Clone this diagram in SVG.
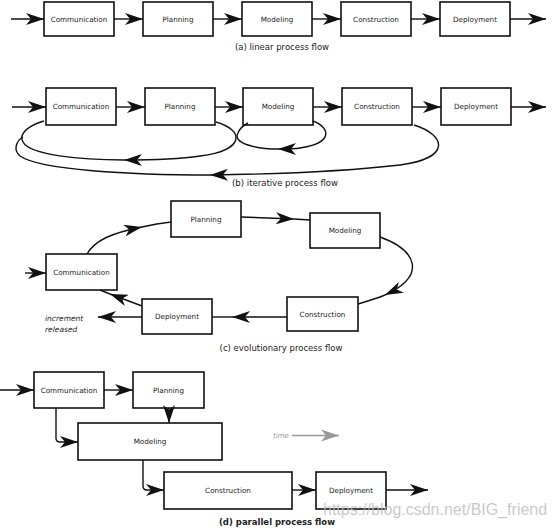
<svg xmlns="http://www.w3.org/2000/svg" width="552" height="528" viewBox="0 0 552 528">
<style>
.box{fill:#fff;stroke:#111;stroke-width:1.6}
.lbl{font-family:"DejaVu Sans",Verdana,sans-serif;font-size:7.2px;fill:#222;text-anchor:middle;dominant-baseline:central}
.cap{font-family:"DejaVu Sans",Verdana,sans-serif;font-size:8.5px;fill:#222;text-anchor:middle}
.c{fill:none;stroke:#111;stroke-width:1.4}
.a{marker-end:url(#ah)}
.it{font-family:"DejaVu Sans",Verdana,sans-serif;font-size:7.5px;font-style:italic;fill:#222}
</style>
<defs>
<marker id="ah" viewBox="0 0 18 12" refX="18" refY="6" markerWidth="18" markerHeight="12" markerUnits="userSpaceOnUse" orient="auto"><path d="M0,0 L18,6 L0,12 L5,6 Z" fill="#111"/></marker>
<marker id="ahg" viewBox="0 0 18 12" refX="18" refY="6" markerWidth="18" markerHeight="12" markerUnits="userSpaceOnUse" orient="auto"><path d="M0,0 L18,6 L0,12 L5,6 Z" fill="#999"/></marker>
</defs>
<rect width="552" height="528" fill="#fff"/>

<!-- (a) -->
<g id="a-communication"><rect class="box" x="44" y="2" width="70" height="34"/><text class="lbl" x="79" y="19">Communication</text></g>
<g id="a-planning"><rect class="box" x="143" y="2" width="70" height="34"/><text class="lbl" x="178" y="19">Planning</text></g>
<g id="a-modeling"><rect class="box" x="242" y="2" width="70" height="34"/><text class="lbl" x="277" y="19">Modeling</text></g>
<g id="a-construction"><rect class="box" x="341" y="2" width="70" height="34"/><text class="lbl" x="376" y="19">Construction</text></g>
<g id="a-deployment"><rect class="box" x="440" y="2" width="70" height="34"/><text class="lbl" x="475" y="19">Deployment</text></g>
<text class="cap" x="282" y="50">(a) linear process flow</text>

<!-- (b) -->
<g id="b-communication"><rect class="box" x="46" y="88" width="70" height="37"/><text class="lbl" x="81" y="106.5">Communication</text></g>
<g id="b-planning"><rect class="box" x="145" y="88" width="70" height="37"/><text class="lbl" x="180" y="106.5">Planning</text></g>
<g id="b-modeling"><rect class="box" x="243" y="88" width="70" height="37"/><text class="lbl" x="278" y="106.5">Modeling</text></g>
<g id="b-construction"><rect class="box" x="342" y="88" width="70" height="37"/><text class="lbl" x="377" y="106.5">Construction</text></g>
<g id="b-deployment"><rect class="box" x="441" y="88" width="70" height="37"/><text class="lbl" x="476" y="106.5">Deployment</text></g>
<text class="cap" x="285" y="186">(b) iterative process flow</text>

<!-- (c) -->
<g id="c-planning"><rect class="box" x="171" y="201" width="70" height="36"/><text class="lbl" x="206" y="219">Planning</text></g>
<g id="c-modeling"><rect class="box" x="310" y="213" width="70" height="35"/><text class="lbl" x="345" y="230.5">Modeling</text></g>
<g id="c-communication"><rect class="box" x="46" y="254" width="71" height="36"/><text class="lbl" x="81.5" y="272">Communication</text></g>
<g id="c-deployment"><rect class="box" x="142" y="299" width="70" height="35"/><text class="lbl" x="177" y="316.5">Deployment</text></g>
<g id="c-construction"><rect class="box" x="287" y="297" width="71" height="34"/><text class="lbl" x="322.5" y="314">Construction</text></g>
<g id="c-increment"><text class="it" x="45" y="321">increment</text><text class="it" x="45" y="332">released</text></g>
<text class="cap" x="281" y="351">(c) evolutionary process flow</text>

<!-- (d) -->
<g id="d-communication"><rect class="box" x="34" y="372" width="70" height="36"/><text class="lbl" x="69" y="390">Communication</text></g>
<g id="d-planning"><rect class="box" x="133" y="372" width="71" height="36"/><text class="lbl" x="168.5" y="390">Planning</text></g>
<g id="d-modeling"><rect class="box" x="78" y="423" width="144" height="37"/><text class="lbl" x="150" y="441.5">Modeling</text></g>
<g id="d-construction"><rect class="box" x="164" y="472" width="128" height="37"/><text class="lbl" x="228" y="490.5">Construction</text></g>
<g id="d-deployment"><rect class="box" x="316" y="472" width="70" height="37"/><text class="lbl" x="351" y="490.5">Deployment</text></g>
<g id="d-time"><text x="273" y="438" font-family="DejaVu Sans,Verdana,sans-serif" font-size="7" font-style="italic" fill="#999">time</text><path d="M292,435.5 L339,435.5" fill="none" stroke="#999" stroke-width="1.4" marker-end="url(#ahg)"/></g>
<text class="cap" x="277" y="525" font-weight="600">(d) parallel process flow</text>

<g id="connectors">
<!-- a -->
<path class="c a" d="M11,19 L44,19"/>
<path class="c a" d="M114,19 L143,19"/>
<path class="c a" d="M213,19 L242,19"/>
<path class="c a" d="M312,19 L341,19"/>
<path class="c a" d="M411,19 L440,19"/>
<path class="c a" d="M510,19 L546,19"/>
<!-- b -->
<path class="c a" d="M12,107 L46,107"/>
<path class="c a" d="M116,107 L145,107"/>
<path class="c a" d="M215,107 L243,107"/>
<path class="c a" d="M313,107 L342,107"/>
<path class="c a" d="M412,107 L441,107"/>
<path class="c a" d="M511,107 L546,107"/>
<path class="c a" d="M216,122 C244,130 246,150 200,156 C180,159 160,160 124,160"/>
<path class="c" d="M124,160 C80,160 30,155 23,142 C18,133 30,125 44,121"/>
<path class="c a" d="M414,125 C446,135 452,158 400,165 C340,172 280,174 210,175"/>
<path class="c" d="M210,175 C130,175 40,170 20,156 C13,150 16,141 23,137"/>
<path class="c a" d="M313,121 C331,128 333,143 300,148 C295,149 290,149 278,149"/>
<path class="c" d="M278,149 C255,149 232,143 238,133 C240,128 244,125 248,123"/>
<!-- c -->
<path class="c a" d="M25,273 L46,273"/>
<path class="c a" d="M87,254 C95,240 112,233 142,227"/>
<path class="c" d="M142,227 C150,225 160,223 171,222"/>
<path class="c a" d="M241,217 L294,219"/>
<path class="c" d="M294,219 L310,220"/>
<path class="c a" d="M380,237 C416,250 428,275 385,295"/>
<path class="c" d="M385,295 C375,299 368,301 358,304"/>
<path class="c a" d="M287,317 L232,317"/>
<path class="c" d="M232,317 L212,317"/>
<path class="c a" d="M142,306 L110,294"/>
<path class="c" d="M110,294 L100,290"/>
<path class="c a" d="M142,317 L98,317"/>
<!-- d -->
<path class="c a" d="M0,390 L34,390"/>
<path class="c a" d="M104,390 L133,390"/>
<path class="c a" d="M169,408 L169,423"/>
<path class="c a" d="M56,408 L56,438 Q56,442 60,442 L78,442"/>
<path class="c a" d="M143,460 L143,486 Q143,490 147,490 L164,490"/>
<path class="c a" d="M292,490 L316,490"/>
<path class="c a" d="M386,490 L428,490"/>
</g>
<text x="323" y="515" font-family="Liberation Sans,Arial,sans-serif" font-size="16" fill="#bbb" fill-opacity="0.8">https://blog.csdn.net/BIG_friend</text>
</svg>
